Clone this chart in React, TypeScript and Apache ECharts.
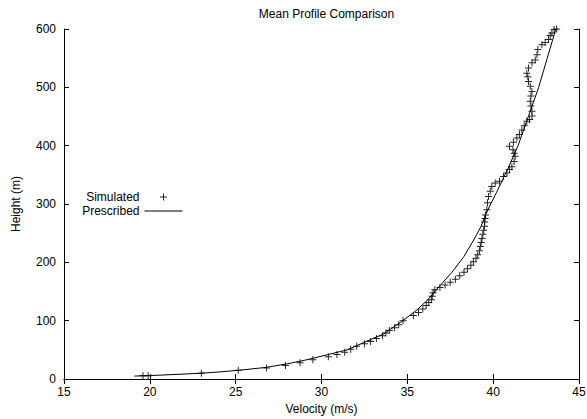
import React, { useEffect, useRef } from "react";
import * as echarts from "echarts";

const titleText = "Mean Profile Comparison";
const xName = "Velocity (m/s)";
const yName = "Height (m)";

// Simulated profile (velocity m/s, height m)
const simVelocity = [
  19.6, 19.9, 23.0, 25.15, 26.8, 27.9, 28.75, 29.5, 30.4, 30.9, 31.35, 31.7, 32.05,
  32.5, 32.85, 33.2, 33.55, 33.75, 33.95, 34.25, 34.5, 34.75, 35.35, 35.65, 35.9,
  36.1, 36.25, 36.4, 36.45, 36.5, 36.6, 36.9, 37.2, 37.5, 37.8, 38.05, 38.3, 38.5,
  38.7, 38.85, 39.0, 39.1, 39.2, 39.25, 39.3, 39.35, 39.4, 39.45, 39.5, 39.5, 39.53,
  39.55, 39.63, 39.67, 39.73, 39.83, 39.92, 40.12, 40.37, 40.6, 40.8, 40.95, 41.09,
  41.22, 41.28, 41.22, 41.15, 40.95, 41.18, 41.38, 41.53, 41.67, 41.81, 41.96, 42.12,
  42.26, 42.26, 42.2, 42.16, 42.2, 42.26, 42.16, 42.06, 42.02, 41.96, 42.06, 42.26,
  42.45, 42.55, 42.6, 42.84, 43.03, 43.22, 43.32, 43.42, 43.55, 43.7,
];
const simHeight = [
  5.5, 5.5, 10, 15, 19, 23, 28, 33, 38, 42, 46, 51, 56,
  60.5, 64.5, 69.5, 74, 79, 83, 88, 93, 100, 109, 114, 120,
  126, 131, 136, 142, 148, 153, 157, 161, 166, 171, 177, 183, 189,
  195, 201, 207, 213, 220, 227, 234, 241, 248, 255, 262, 269, 275,
  281, 290, 302, 313, 322, 330, 336, 339, 347, 353, 359, 364,
  373, 382, 387, 393, 399, 406, 413, 419, 427, 434, 442, 445,
  451, 459, 468, 476, 485, 493, 502, 510, 518, 524, 533, 542,
  547, 556, 565, 573, 577, 582, 589, 593, 599, 600,
];

// Prescribed profile (velocity m/s, height m)
const presVelocity = [
  19.1, 20.5, 22.0, 23.0, 24.0, 25.2, 26.8, 28.0, 29.0, 30.4, 31.5, 32.5, 33.6,
  34.6, 35.5, 36.2, 36.9, 37.6, 38.3, 38.9, 39.3, 39.6, 40.2, 40.85, 41.45, 42.05,
  42.65, 43.15, 43.65,
];
const presHeight = [
  5, 6.5, 8.5, 10, 12, 15, 20, 26, 32, 42, 50, 63, 77,
  97, 117, 136, 160, 183, 210, 240, 262, 285, 320, 360, 400, 450,
  500, 550, 600,
];

const xMin = 15, xMax = 45, xStep = 5;
const yMin = 0, yMax = 600, yStep = 100;

const FONT = "Liberation Sans, Arial, Helvetica, sans-serif";
const PLUS = "path://M3,0h1v3h3v1h-3v3h-1v-3h-3v-1h3z";

export default function App() {
  const ref = useRef<HTMLDivElement>(null);
  useEffect(() => {
    if (!ref.current) return;
    const chart = echarts.init(ref.current, null, { renderer: "svg" });
    const sim = simVelocity.map((v, i) => [v, simHeight[i]]);
    const pres = presVelocity.map((v, i) => [v, presHeight[i]]);
    const axisLine = { show: true, lineStyle: { color: "#000", width: 1 } };
    const axisTick = { show: true, inside: true, length: 5, lineStyle: { color: "#000", width: 1 } };
    const labelStyle = { color: "#000", fontFamily: FONT, fontSize: 12 };
    chart.setOption({
      animation: false,
      backgroundColor: "#fff",
      textStyle: { fontFamily: FONT },
      title: {
        text: titleText,
        left: 321.5,
        textAlign: "center",
        top: 3,
        textStyle: { color: "#000", fontFamily: FONT, fontSize: 12, fontWeight: "normal" },
      },
      grid: {
        left: 64,
        right: 8,
        top: 29,
        bottom: 40,
        containLabel: false,
        outerBoundsMode: "none",
      },
      legend: [
        {
          data: ["Simulated"],
          orient: "vertical",
          align: "right",
          right: 420,
          top: 191,
          padding: 0,
          itemWidth: 38,
          itemHeight: 7,
          symbolKeepAspect: true,
          textStyle: { ...labelStyle, lineHeight: 12 },
        },
        {
          data: ["Prescribed"],
          orient: "vertical",
          align: "right",
          right: 404,
          top: 205,
          padding: 0,
          itemWidth: 38,
          itemHeight: 12,
          itemStyle: { color: "rgba(0,0,0,0)", borderColor: "rgba(0,0,0,0)", borderWidth: 0 },
          lineStyle: { color: "#000", width: 1 },
          textStyle: { ...labelStyle, lineHeight: 12 },
        },
      ],
      xAxis: [
        {
          type: "value",
          min: xMin,
          max: xMax,
          interval: xStep,
          position: "bottom",
          name: xName,
          nameLocation: "middle",
          nameGap: 23,
          nameTextStyle: { ...labelStyle },
          axisLine,
          axisTick,
          axisLabel: { ...labelStyle, margin: 7 },
          splitLine: { show: false },
        },
        {
          type: "value",
          min: xMin,
          max: xMax,
          interval: xStep,
          position: "top",
          axisLine,
          axisTick,
          axisLabel: { show: false },
          splitLine: { show: false },
        },
      ],
      yAxis: [
        {
          type: "value",
          min: yMin,
          max: yMax,
          interval: yStep,
          position: "left",
          name: yName,
          nameLocation: "middle",
          nameGap: 42,
          nameTextStyle: { ...labelStyle },
          axisLine,
          axisTick,
          axisLabel: { ...labelStyle, margin: 8 },
          splitLine: { show: false },
        },
        {
          type: "value",
          min: yMin,
          max: yMax,
          interval: yStep,
          position: "right",
          axisLine,
          axisTick,
          axisLabel: { show: false },
          splitLine: { show: false },
        },
      ],
      series: [
        {
          name: "Simulated",
          type: "scatter",
          xAxisIndex: 0,
          yAxisIndex: 0,
          data: sim,
          symbol: PLUS,
          symbolSize: 7,
          itemStyle: { color: "#000", opacity: 0.85 },
        },
        {
          name: "Prescribed",
          type: "line",
          xAxisIndex: 0,
          yAxisIndex: 0,
          data: pres,
          symbol: "none",
          showSymbol: false,
          lineStyle: { color: "#000", width: 1 },
          itemStyle: { color: "#000" },
        },
      ],
    });
    return () => chart.dispose();
  }, []);
  return (
    <div
      ref={ref}
      style={{ position: "fixed", left: 0, top: 0, width: 587, height: 419 }}
    />
  );
}
